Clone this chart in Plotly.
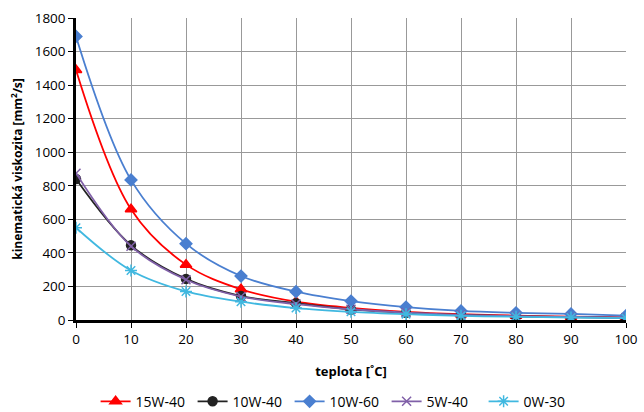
import plotly.graph_objects as go

teplota = [0, 10, 20, 30, 40, 50, 60, 70, 80, 90, 100]
v_15w40 = [1490, 660, 330, 183, 109, 72, 49, 35, 26, 20, 15]
v_10w40 = [840, 445, 245, 143, 100, 63, 43, 30, 22, 17, 13]
v_10w60 = [1690, 835, 455, 262, 169, 113, 77, 54, 43, 36, 26]
v_5w40 = [875, 440, 240, 140, 95, 64, 44, 31, 23, 18, 14]
v_0w30 = [550, 295, 170, 109, 71, 49, 35, 25, 19, 15, 11]

series = [
    ("15W-40", v_15w40, "#FF0000", "triangle-up", 10),
    ("10W-40", v_10w40, "#222222", "circle", 9),
    ("10W-60", v_10w60, "#4A7FD0", "diamond", 9),
    ("5W-40", v_5w40, "#8060A8", "x-thin", 9),
    ("0W-30", v_0w30, "#40B8E0", "asterisk", 10),
]

fig = go.Figure()
for name, vals, col, sym, sz in series:
    fig.add_trace(go.Scatter(
        x=teplota, y=vals, name=name, mode="lines+markers",
        line=dict(color=col, width=1.8, shape="spline", smoothing=1.0),
        marker=dict(symbol=sym, size=sz, color=col,
                    line=dict(color=col, width=1.5)),
    ))

fig.update_layout(
    width=644, height=412,
    margin=dict(l=76, r=18, t=18, b=92, autoexpand=False),
    paper_bgcolor="white", plot_bgcolor="white",
    font=dict(family="Open Sans", size=13, color="#000"),
    showlegend=True,
    legend=dict(orientation="h", xref="container", yref="container",
                x=0.525, xanchor="center", y=0.025, yanchor="middle",
                font=dict(size=14), traceorder="normal",
                entrywidth=52, entrywidthmode="pixels"),
)
fig.update_xaxes(
    range=[0, 100], tickvals=list(range(0, 101, 10)),
    showgrid=True, gridcolor="#999999", gridwidth=1,
    showline=True, linecolor="#000", linewidth=2.5,
    ticks="outside", ticklen=5, tickcolor="#000",
    tickfont=dict(size=13.5), automargin=False,
    title=dict(text="<b>teplota [˚C]</b>", font=dict(size=13), standoff=20),
    zeroline=False,
)
fig.update_yaxes(
    range=[0, 1800], tickvals=list(range(0, 1801, 200)),
    showgrid=True, gridcolor="#999999", gridwidth=1,
    showline=True, linecolor="#000", linewidth=2.5,
    ticks="outside", ticklen=5, tickcolor="#000",
    tickfont=dict(size=13.5), automargin=False,
    title=dict(text="<b>kinematická viskozita [mm<sup>2</sup>/s]</b>", font=dict(size=12), standoff=10),
    zeroline=False,
)
fig.write_html("out.html", config={"displayModeBar": False},
               post_script="document.body.style.margin='0';document.body.style.overflow='hidden';")
